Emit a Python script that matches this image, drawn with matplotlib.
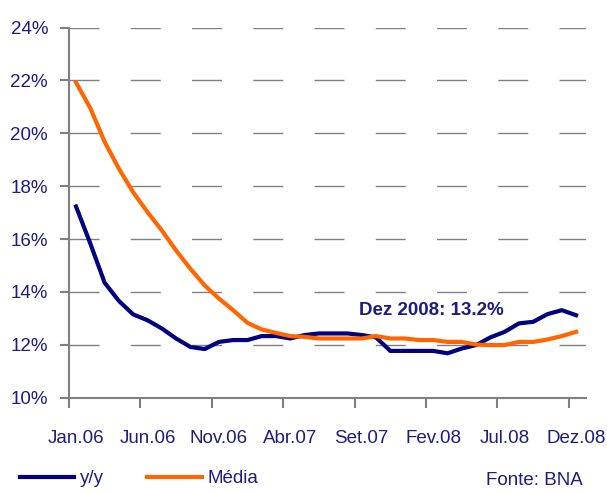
import matplotlib
matplotlib.use('Agg')
import matplotlib.pyplot as plt
from matplotlib import font_manager as fm
from matplotlib.ticker import FixedLocator, FuncFormatter

# Data (monthly, Jan.06 - Dez.08, %)
yy = [17.23, 15.83, 14.35, 13.66, 13.15, 12.93, 12.62, 12.24, 11.92, 11.84,
      12.11, 12.18, 12.18, 12.33, 12.33, 12.24, 12.37, 12.43, 12.43, 12.43,
      12.37, 12.28, 11.77, 11.77, 11.77, 11.77, 11.68, 11.86, 11.99, 12.28,
      12.49, 12.81, 12.87, 13.16, 13.31, 13.12]
media = [21.92, 20.95, 19.68, 18.66, 17.77, 17.02, 16.33, 15.57, 14.88, 14.25,
         13.75, 13.31, 12.83, 12.58, 12.45, 12.33, 12.30, 12.24, 12.24, 12.24,
         12.24, 12.33, 12.24, 12.24, 12.18, 12.18, 12.11, 12.11, 12.01, 11.99,
         11.99, 12.11, 12.11, 12.20, 12.33, 12.49]
tick_labels = ['Jan.06', 'Jun.06', 'Nov.06', 'Abr.07', 'Set.07', 'Fev.08', 'Jul.08', 'Dez.08']
tick_step = 5
y_ticks = [10, 12, 14, 16, 18, 20, 22, 24]
series_names = ['y/y', 'Média']
note = 'Dez 2008: 13.2%'
source = 'Fonte: BNA'

names = {f.name for f in fm.fontManager.ttflist}
font = 'Liberation Sans Narrow' if 'Liberation Sans Narrow' in names else 'Liberation Sans'
plt.rcParams['font.family'] = [font, 'DejaVu Sans']
fs = 14 if font == 'Liberation Sans Narrow' else 13.5

txt_col = '#1c1c84'
navy = '#000080'
orange = '#ff6600'
axis_col = '#808080'

fig = plt.figure(figsize=(6.07, 4.93), dpi=100)
ax = fig.add_axes([0.1135, 0.1933, 0.852, 0.7509])

x = list(range(len(yy)))
l1, = ax.plot(x, yy, color=navy, lw=3, solid_joinstyle='round', zorder=3)
l2, = ax.plot(x, media, color=orange, lw=3, solid_joinstyle='round', zorder=3)

ax.set_xlim(-0.5, 35.7)
ax.set_ylim(10, 24)

for s in ['top', 'right']:
    ax.spines[s].set_visible(False)
for s in ['left', 'bottom']:
    ax.spines[s].set_color(axis_col)
    ax.spines[s].set_linewidth(1.5)

# y axis
ax.set_yticks(y_ticks)
ax.yaxis.set_major_formatter(FuncFormatter(lambda v, p: f'{v:.0f}%'))
ax.tick_params(axis='y', direction='out', length=6.5, width=1.5, color=axis_col,
               labelcolor=txt_col, labelsize=fs, pad=8.5)
for v in y_ticks[1:]:
    ax.axhline(v, color=axis_col, lw=1.0, linestyle=(0, (21.6, 22.5)), zorder=1)

# x axis: tick marks between categories, labels on categories
lab_pos = list(range(0, len(yy), tick_step))
ax.xaxis.set_major_locator(FixedLocator([p - 0.5 for p in lab_pos]))
ax.xaxis.set_minor_locator(FixedLocator(lab_pos))
ax.tick_params(axis='x', which='major', direction='out', length=7.5, width=1.5,
               color=axis_col, labelbottom=False)
ax.tick_params(axis='x', which='minor', length=0, labelcolor=txt_col,
               labelsize=fs, pad=23)
ax.set_xticklabels(tick_labels, minor=True)

ax.text(24.85, 13.3, note, ha='center', va='center', color=txt_col,
        fontsize=fs, fontweight='bold')

fig.legend([l1, l2], series_names, loc='lower left', bbox_to_anchor=(20 / 607, 0.012),
           ncol=2, frameon=False, fontsize=fs, labelcolor=txt_col,
           handlelength=2.9, handletextpad=0.3, columnspacing=2.3,
           borderpad=0, borderaxespad=0)

fig.text(583 / 607, 0.016, source, ha='right', va='baseline', color=txt_col, fontsize=fs)

fig.savefig('out.png', dpi=100)
